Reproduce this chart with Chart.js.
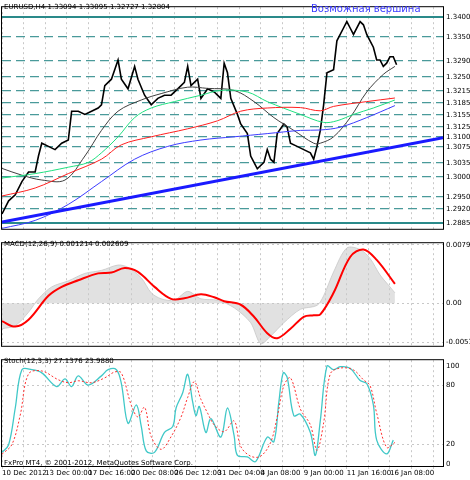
<!DOCTYPE html>
<html><head><meta charset="utf-8">
<script src="https://cdn.jsdelivr.net/npm/chart.js@4"></script>
<style>
body{margin:0;background:#fff;width:470px;height:480px;position:relative;overflow:hidden;font-family:"DejaVu Sans",sans-serif}
canvas{position:absolute;left:0}
.t{position:absolute;font-size:7px;color:#000;white-space:nowrap}
</style></head><body>
<canvas id="main" style="top:0px" width="470" height="236"></canvas>
<canvas id="macd" style="top:236px" width="470" height="117"></canvas>
<canvas id="stoch" style="top:353px" width="470" height="127"></canvas>
<div class="t" style="left:4px;top:3px">EURUSD,H4 1.33094 1.33095 1.32727 1.32804</div>
<div class="t" style="left:311px;top:3px;font-size:10px;color:#3b3bff">Возможная вершина</div>
<div class="t" style="left:4px;top:240px">MACD(12,26,9) 0.001214 0.002609</div>
<div class="t" style="left:4px;top:357px">Stoch(12,3,3) 27.1376 23.9880</div>
<div class="t" style="left:4px;top:459px">FxPro MT4, © 2001-2012, MetaQuotes Software Corp.</div>
<script>
// bar positions (time axis), prices
const priceT = [0,20,40,60,80,100,110,120,140,160,180,200,210,230,250,270,290,300,310,330,350,360,380,400,410,430,450,470,490,510,530,550,560,570,590,600,620,640,660,670,680,690,710,720,740,750,760,770,790,800,810,820,830,850,860,870,890,910,930,940,950,960,970,980,1000,1010,1020,1030,1040,1050,1060,1080,1090,1100,1110,1120,1130,1140,1150,1160,1170,1180,1190];
const closes = [1.2907,1.2940,1.2955,1.2988,1.3012,1.3012,1.3052,1.3084,1.3076,1.3068,1.3084,1.3092,1.3164,1.3164,1.3156,1.3164,1.3172,1.3180,1.3228,1.3244,1.3292,1.3244,1.3220,1.3276,1.3244,1.3204,1.3180,1.3196,1.3204,1.3204,1.3220,1.3236,1.3276,1.3228,1.3244,1.3196,1.3220,1.3212,1.3196,1.3284,1.3260,1.3196,1.3156,1.3132,1.3108,1.3052,1.3036,1.3020,1.3036,1.3068,1.3044,1.3036,1.3108,1.3132,1.3124,1.3084,1.3076,1.3068,1.3060,1.3044,1.3076,1.3116,1.3180,1.3260,1.3268,1.3340,1.3356,1.3372,1.3388,1.3372,1.3356,1.3388,1.3380,1.3356,1.3340,1.3324,1.3292,1.3292,1.3276,1.3284,1.3300,1.3300,1.3280];
const maBlackT = [0,60,120,190,250,300,350,420,480,560,620,700,760,820,880,940,960,1000,1050,1100,1150,1185];
const maBlack = [1.3021,1.3004,1.2992,1.2992,1.3052,1.3116,1.3164,1.3192,1.3208,1.3224,1.3221,1.3216,1.3188,1.3148,1.3116,1.3084,1.3084,1.3100,1.3148,1.3212,1.3256,1.3276];
const maGreenT = [0,100,200,260,300,350,400,450,520,600,660,740,800,900,970,1010,1060,1120,1185];
const maGreen = [1.2997,1.3008,1.3024,1.3036,1.3060,1.3100,1.3148,1.3172,1.3188,1.3204,1.3216,1.3212,1.3188,1.3156,1.3136,1.3140,1.3156,1.3172,1.3192];
const maRedT = [0,100,200,300,360,450,560,650,720,800,900,960,1000,1100,1185];
const maRed = [1.2952,1.2972,1.3008,1.3044,1.3080,1.3100,1.3120,1.3140,1.3164,1.3172,1.3173,1.3165,1.3176,1.3188,1.3197];
const maBlueT = [0,100,200,300,400,500,600,700,800,900,960,1020,1100,1185];
const maBlue = [1.2871,1.2891,1.2931,1.2988,1.3044,1.3076,1.3092,1.3100,1.3108,1.3116,1.3117,1.3124,1.3148,1.3178];
const trendT = [0,1330];
const trend = [1.2887,1.3098];
const levels = [1.3400,1.3350,1.3290,1.3250,1.3215,1.3185,1.3155,1.3125,1.3100,1.3075,1.3035,1.3000,1.2950,1.2920,1.2885];
const histT = [0,40,80,110,150,200,250,300,350,380,420,450,480,520,560,600,650,700,750,780,810,850,900,950,970,1000,1040,1080,1110,1140,1170,1185];
const hist = [-0.00347,-0.00306,-0.00122,0.00061,0.00224,0.00306,0.00408,0.00449,0.00522,0.0049,0.00347,0.00143,0.00061,0.00041,0.00163,0.00061,0.00041,-0.00061,-0.00265,-0.00551,-0.00449,-0.00265,-0.00082,-0.00029,0.00102,0.00428,0.00755,0.00734,0.00612,0.00388,0.00224,0.00143];
const sigT = [0,40,80,140,180,230,290,330,370,410,460,510,550,600,640,670,720,760,800,830,870,910,940,960,1000,1050,1090,1130,1185];
const sig = [-0.00245,-0.00318,-0.00224,0.00102,0.00224,0.00314,0.00408,0.0042,0.00481,0.00428,0.00224,0.00061,0.00069,0.00122,0.00082,0.00029,-0.0002,-0.00184,-0.00408,-0.00477,-0.00347,-0.00184,-0.00163,-0.00151,0.00143,0.00632,0.00734,0.00592,0.00265];
const stT = [0,20,40,60,90,120,165,190,210,230,260,300,320,345,360,380,405,420,435,460,490,515,525,545,560,575,585,595,615,630,660,680,700,710,740,765,800,820,835,848,860,880,900,930,945,960,980,1000,1020,1050,1080,1100,1120,1130,1160,1180];
const stK = [11.9,19.7,57.2,96.3,96.3,93.1,79.1,86.9,79.1,90,80.6,90,96.3,96.3,82.2,41.6,60.3,38.4,13.4,11.9,32.2,38.4,57.2,72.8,91.6,63.4,49.4,58.8,32.2,46.3,27.5,57.2,29.1,8.8,7.2,2.5,27.5,22.8,63.4,93.1,88.4,49.4,50.9,32.2,8.8,44.4,100,96.3,99.4,97.8,85.3,82.2,60.3,24.4,10.3,24.4];
const stDT = [0,30,55,80,120,170,200,230,270,310,340,360,390,410,430,450,480,510,540,560,580,600,620,640,670,700,720,750,780,810,830,850,870,900,930,950,970,990,1020,1060,1090,1110,1130,1160,1185];
const stD = [10,20,50,92,95,86,83,85,83,88,94,93,60,48,58,28,15,28,48,68,84,66,52,40,33,44,18,8,8,22,48,80,88,56,40,14,42,92,98,96,86,80,52,17,22];
const timeLabels = ['10 Dec 2012','13 Dec 00:00','17 Dec 16:00','20 Dec 08:00','26 Dec 12:00','31 Dec 04:00','4 Jan 08:00','9 Jan 00:00','11 Jan 16:00','16 Jan 08:00'];

const FONT = {family:'DejaVu Sans', size:7};
const xy = (t, v) => t.map((x, i) => ({x: x, y: v[i]}));
const frame = {id:'frame', afterDraw(c){const a=c.chartArea,g=c.ctx;g.save();g.strokeStyle='#000';g.lineWidth=1;g.strokeRect(a.left-0.5,a.top-0.5,a.right-a.left+1,a.bottom-a.top+1);g.restore();}};
function xScale(showLabels){
  return {type:'linear', min:0, max:1330, border:{display:false, dash:[2,3]},
    afterBuildTicks: ax => { ax.ticks = []; for(let v=0; v<=1330; v+=65) ax.ticks.push({value:v}); },
    grid:{color:'#c8c8c8', drawTicks:showLabels, tickLength:3},
    ticks:{display:showLabels, font:FONT, color:'#000', maxRotation:0, autoSkip:false, align:'start', padding:0,
      callback:(v)=> v % 130 === 0 ? (timeLabels[v/130] || '') : ''},
    afterFit: ax => { ax.height = showLabels ? 14 : 0; }};
}
function yRight(min, max, ticks, fmt, gridOpts, dash){
  return {position:'right', min:min, max:max, border:{display:false, dash:dash},
    afterBuildTicks: ax => { ax.ticks = ticks.map(v => ({value:v})); },
    grid: gridOpts, ticks:{font:FONT, color:'#000', padding:3, callback: fmt},
    afterFit: ax => { ax.width = 27; }};
}
const base = {responsive:false, animation:false, plugins:{legend:{display:false}, tooltip:{enabled:false}}, elements:{point:{radius:0}}};
const line = (data, color, w, extra) => Object.assign({type:'line', data:data, borderColor:color, borderWidth:w, tension:0.35, fill:false}, extra || {});
const isEdge = c => c.tick && (c.tick.value === 1.34 || c.tick.value === 1.2885);

new Chart(document.getElementById('main'), {
  data:{datasets:[
    line(xy(trendT, trend), '#1a1aff', 3, {tension:0}),
    line(xy(maBlueT, maBlue), '#3c3cff', 1),
    line(xy(maRedT, maRed), '#ff2020', 1),
    line(xy(maGreenT, maGreen), '#20e080', 1),
    line(xy(maBlackT, maBlack), '#404040', 1),
    line(xy(priceT, closes), '#000', 1.6, {tension:0})
  ]},
  options:Object.assign({}, base, {layout:{padding:{left:2, top:5, bottom:1, right:0}},
    scales:{x:xScale(false),
      y:yRight(1.2870, 1.3424, levels, v => v.toFixed(5), {
        color: c => isEdge(c) ? '#2a8a8a' : '#4a9a9a',
        lineWidth: c => isEdge(c) ? 2 : 1.2,
        drawTicks:false}, c => isEdge(c) ? [] : [9,5])}}),
  plugins:[frame]
});

new Chart(document.getElementById('macd'), {
  data:{datasets:[
    line(xy(sigT, sig), '#ff0000', 2),
    line(xy(histT, hist), '#c8c8c8', 0.8, {fill:'origin', backgroundColor:'rgba(200,200,200,0.55)', tension:0.3})
  ]},
  options:Object.assign({}, base, {layout:{padding:{left:2, top:3, bottom:2}},
    scales:{x:xScale(false),
      y:yRight(-0.0058, 0.0082, [0.007958, 0, -0.00537], v => v === 0 ? '0.00' : v.toFixed(6), {color:'#c8c8c8', drawTicks:false}, [2,3])}}),
  plugins:[frame]
});

new Chart(document.getElementById('stoch'), {
  data:{datasets:[
    line(xy(stDT, stD), '#ff3030', 1, {borderDash:[2,2]}),
    line(xy(stT, stK), '#40c8c8', 1.3)
  ]},
  options:Object.assign({}, base, {layout:{padding:{left:2, top:2, bottom:0}},
    scales:{x:xScale(true),
      y:yRight(-2, 106, [100, 80, 20, 0], v => String(v), {color: c => (c.tick && (c.tick.value===80||c.tick.value===20)) ? '#c8c8c8' : 'rgba(0,0,0,0)', drawTicks:false}, [2,3])}}),
  plugins:[frame]
});
</script>
</body></html>
